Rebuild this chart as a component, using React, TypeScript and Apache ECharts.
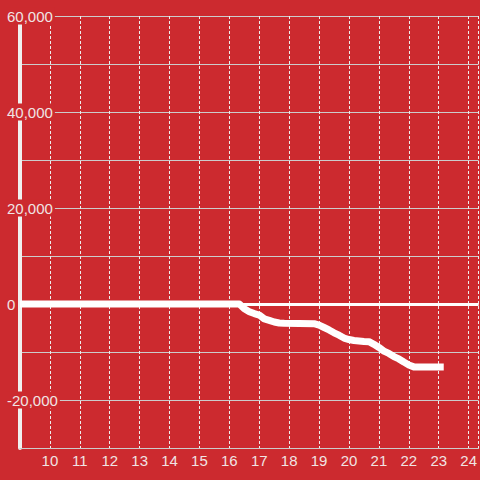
import React, { useEffect, useRef } from 'react';
import * as echarts from 'echarts';

const hours = [9, 16.333, 16.5, 16.667, 16.833, 17, 17.167, 17.333, 17.5, 17.667, 17.833, 18.833, 19, 19.167, 19.333, 19.5, 19.667, 19.833, 20, 20.167, 20.333, 20.5, 20.667, 20.833, 21, 21.167, 21.333, 21.5, 21.667, 21.833, 22, 22.167, 23.167];
const values = [0, 0, -1000, -1600, -2000, -2300, -3100, -3400, -3750, -3950, -4000, -4100, -4400, -4900, -5400, -6000, -6500, -7100, -7400, -7600, -7700, -7800, -7850, -8400, -9050, -9800, -10300, -10950, -11450, -12100, -12700, -13100, -13100];

const xMin = 9;
const xMax = 24.333;
const yMin = -30000;
const yMax = 60000;
const yStep = 10000;
const yLabelStep = 20000;

const BG = '#cc2a2f';

export default function App() {
  const ref = useRef<HTMLDivElement>(null);
  useEffect(() => {
    if (!ref.current) return;
    const chart = echarts.init(ref.current, null, { renderer: 'svg' });
    const data = hours.map((h, i) => [h, values[i]]);
    chart.setOption({
      animation: false,
      backgroundColor: BG,
      textStyle: { fontFamily: 'Liberation Sans' },
      grid: { left: 20, right: 0, top: 16, bottom: 32, containLabel: false },
      xAxis: {
        type: 'value',
        min: xMin,
        max: xMax,
        interval: 1,
        axisLine: { show: true, onZero: false, lineStyle: { color: '#cccccc', width: 1 } },
        axisTick: { show: false },
        axisLabel: {
          color: '#f0e4e4',
          fontSize: 15,
          fontFamily: 'Liberation Sans',
          margin: 5,
          showMinLabel: false,
          showMaxLabel: false,
        },
        splitLine: { show: true, lineStyle: { color: '#eeeeee', width: 1, type: [3, 2] } },
      },
      yAxis: {
        type: 'value',
        min: yMin,
        max: yMax,
        interval: yStep,
        axisLine: { show: true, onZero: false, lineStyle: { color: '#f0f0f0', width: 4 } },
        axisTick: { show: false },
        axisLabel: {
          color: '#f0e4e4',
          fontSize: 15,
          fontFamily: 'Liberation Sans',
          align: 'left',
          margin: 14,
          backgroundColor: BG,
          padding: [1, 2, 1, 1],
          formatter: (v: number) => (v % yLabelStep === 0 ? v.toLocaleString('en-US') : ''),
        },
        splitLine: { show: true, lineStyle: { color: '#cccccc', width: 1 } },
      },
      series: [
        {
          type: 'line',
          data,
          showSymbol: false,
          lineStyle: { color: '#ffffff', width: 7, cap: 'butt', join: 'round' },
          markLine: {
            silent: true,
            symbol: 'none',
            label: { show: false },
            lineStyle: { color: '#ffffff', width: 3, type: 'solid' },
            data: [{ yAxis: 0 }],
          },
        },
      ],
    });
    return () => chart.dispose();
  }, []);
  return <div ref={ref} style={{ position: 'fixed', left: 0, top: 0, width: 480, height: 480 }} />;
}
